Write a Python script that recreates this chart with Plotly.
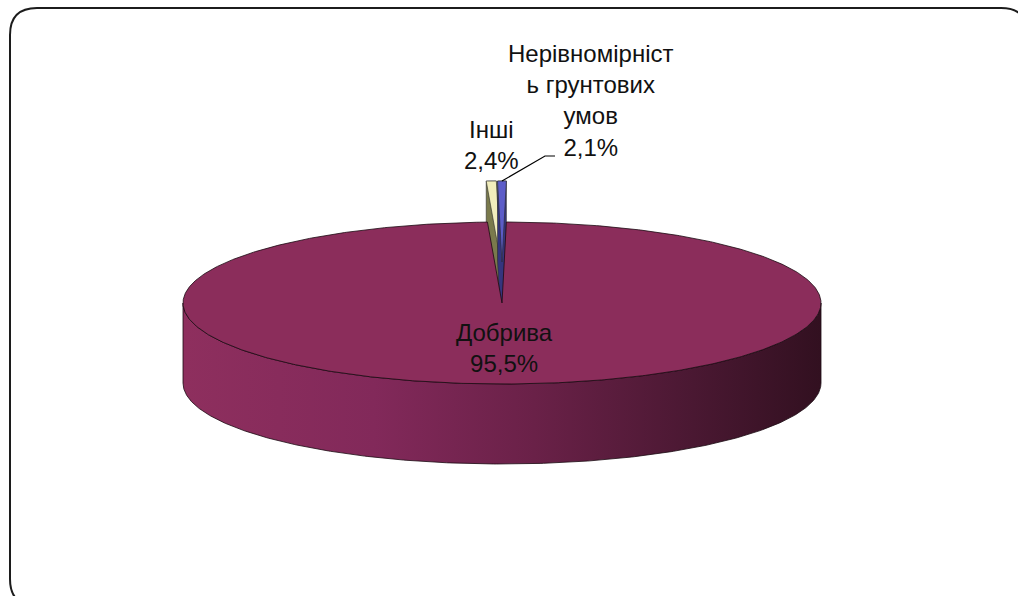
import math
import textwrap
import plotly.graph_objects as go

# ---------------- data ----------------
labels = ["Добрива", "Інші", "Нерівномірність грунтових умов"]
values = [95.5, 2.4, 2.1]

# ---------------- style ----------------
top_colors = ["#8B2D5B", "#F1EDBC", "#5C5CC8"]
side_colors = ["#8B2D5B", "#7A7A4C", "#35357E"]
exploded = [False, True, True]

W, H = 1018, 596
CX, CY, RX, RY, DEPTH = 502, 303, 319, 81, 80
EXPLODE = 41          # vertical pull-out of exploded slices (px)
K = 0.21              # view compression of the thin back slices
DELTA = -0.8          # rotation (deg)
FONT = "Liberation Sans, Arial, sans-serif"
FONT_SIZE = 24

total = sum(values)
raw = [v / total * 360.0 for v in values]

# clockwise from 12 o'clock; slice 0 starts where the last slice ends
starts = []
a = raw[-1]
for r in raw:
    starts.append(a)
    a += r
ends = [s + r for s, r in zip(starts, raw)]

small_lo = -sum(raw[1:-1])   # start of the first thin slice (negative angle)
small_hi = raw[-1]           # end of the last thin slice


def warp(angle):
    """Map a pie angle to a display angle (thin back slices compressed)."""
    x = angle
    while x > 360 + small_lo + 1e-6:
        x -= 360
    while x < small_lo - 1e-6:
        x += 360
    if x <= small_hi + 1e-6:
        return K * x + DELTA
    t = (x - small_hi) / ((360 + small_lo) - small_hi)
    return K * small_hi + t * ((360 + K * small_lo) - K * small_hi) + DELTA


def pt(phi, dx=0.0, dy=0.0):
    r = math.radians(phi)
    return (CX + RX * math.sin(r) + dx, CY - RY * math.cos(r) + dy)


def arc(p0, p1, dx=0.0, dy=0.0, step=0.5):
    n = max(2, int(abs(p1 - p0) / step) + 1)
    return [pt(p0 + (p1 - p0) * i / (n - 1), dx, dy) for i in range(n)]


def hull(points):
    pts = sorted(set(points))
    if len(pts) <= 2:
        return pts

    def cross(o, a_, b):
        return (a_[0] - o[0]) * (b[1] - o[1]) - (a_[1] - o[1]) * (b[0] - o[0])

    lower, upper = [], []
    for p in pts:
        while len(lower) >= 2 and cross(lower[-2], lower[-1], p) <= 0:
            lower.pop()
        lower.append(p)
    for p in reversed(pts):
        while len(upper) >= 2 and cross(upper[-2], upper[-1], p) <= 0:
            upper.pop()
        upper.append(p)
    return lower[:-1] + upper[:-1]


def poly_trace(points, fill, line_color, line_width=0.8):
    xs = [p[0] for p in points] + [points[0][0]]
    ys = [p[1] for p in points] + [points[0][1]]
    return go.Scatter(x=xs, y=ys, mode="lines", fill="toself", fillcolor=fill,
                      line=dict(color=line_color, width=line_width),
                      hoverinfo="skip", showlegend=False)


def display_range(i):
    p0, p1 = warp(starts[i]), warp(ends[i])
    if p1 < p0:
        p0 -= 360
    return p0, p1


fig = go.Figure()

# ---- exploded thin slices (behind the main slice) ----
leader_start = None
for i in range(len(values)):
    if not exploded[i]:
        continue
    p0, p1 = display_range(i)
    pm = (p0 + p1) / 2
    dx = EXPLODE * math.sin(math.radians(pm))
    dy = -EXPLODE * math.cos(math.radians(pm))
    tip = (CX + dx, CY + dy)
    top = [tip] + arc(p0, p1, dx, dy, step=0.1)
    body = hull(top + [(x, y + DEPTH) for x, y in top])
    fig.add_trace(poly_trace(body, side_colors[i], "#2b2b2b", 0.6))
    fig.add_trace(poly_trace(top, top_colors[i], "#2b2b2b", 0.6))
    if i == len(values) - 1:
        leader_start = pt(pm, dx, dy)

# ---- main slice side (front half) with horizontal shading ----
d0, d1 = display_range(0)
lo, hi = max(90.0, d0), min(270.0, d1)
side_pts = arc(lo, hi) + arc(hi, lo, 0, DEPTH)
xs = [p[0] for p in side_pts] + [side_pts[0][0]]
ys = [p[1] for p in side_pts] + [side_pts[0][1]]
fig.add_trace(go.Scatter(
    x=xs, y=ys, mode="lines", fill="toself",
    fillgradient=dict(type="horizontal",
                      colorscale=[[0.0, "#8E2F5E"], [0.3, "#82295A"],
                                  [0.55, "#6A2148"], [0.8, "#4A1832"],
                                  [1.0, "#321020"]]),
    line=dict(color="#1a0a12", width=0.8),
    hoverinfo="skip", showlegend=False))

# ---- main slice top face ----
top_main = [(CX, CY)] + arc(d0, d1, step=0.5)
fig.add_trace(poly_trace(top_main, top_colors[0], "#1a0a12", 0.8))


# ---- labels ----
def fmt(v):
    return f"{v:.1f}%".replace(".", ",")


label_pos = [(504, 348), (491, 145), (590, 100)]
for i, (lab, v) in enumerate(zip(labels, values)):
    lines = textwrap.wrap(lab, width=14, break_long_words=True)
    text = "<br>".join(lines + [fmt(v)])
    fig.add_annotation(x=label_pos[i][0], y=label_pos[i][1], xref="x", yref="y",
                       text=text, showarrow=False, xanchor="center", yanchor="middle",
                       font=dict(family=FONT, size=FONT_SIZE, color="#111111"))

# leader line for the last label
if leader_start is not None:
    fig.add_trace(go.Scatter(x=[leader_start[0], 545, 555],
                             y=[leader_start[1], 156, 156],
                             mode="lines", line=dict(color="#000000", width=1.2),
                             hoverinfo="skip", showlegend=False))

# ---- rounded frame ----
x0, y0, x1, y1, r = 10, 8, 1028, 606, 27
path = (f"M {x0+r},{y0} L {x1-r},{y0} Q {x1},{y0} {x1},{y0+r} "
        f"L {x1},{y1-r} Q {x1},{y1} {x1-r},{y1} L {x0+r},{y1} "
        f"Q {x0},{y1} {x0},{y1-r} L {x0},{y0+r} Q {x0},{y0} {x0+r},{y0} Z")
fig.add_shape(type="path", path=path, xref="x", yref="y",
              line=dict(color="#1c1c1c", width=2), layer="above")

fig.update_layout(
    width=W, height=H, margin=dict(l=0, r=0, t=0, b=0),
    paper_bgcolor="white", plot_bgcolor="white",
    xaxis=dict(range=[0, W], visible=False, fixedrange=True),
    yaxis=dict(range=[H, 0], visible=False, fixedrange=True),
    showlegend=False,
)

fig.write_html("out.html")
